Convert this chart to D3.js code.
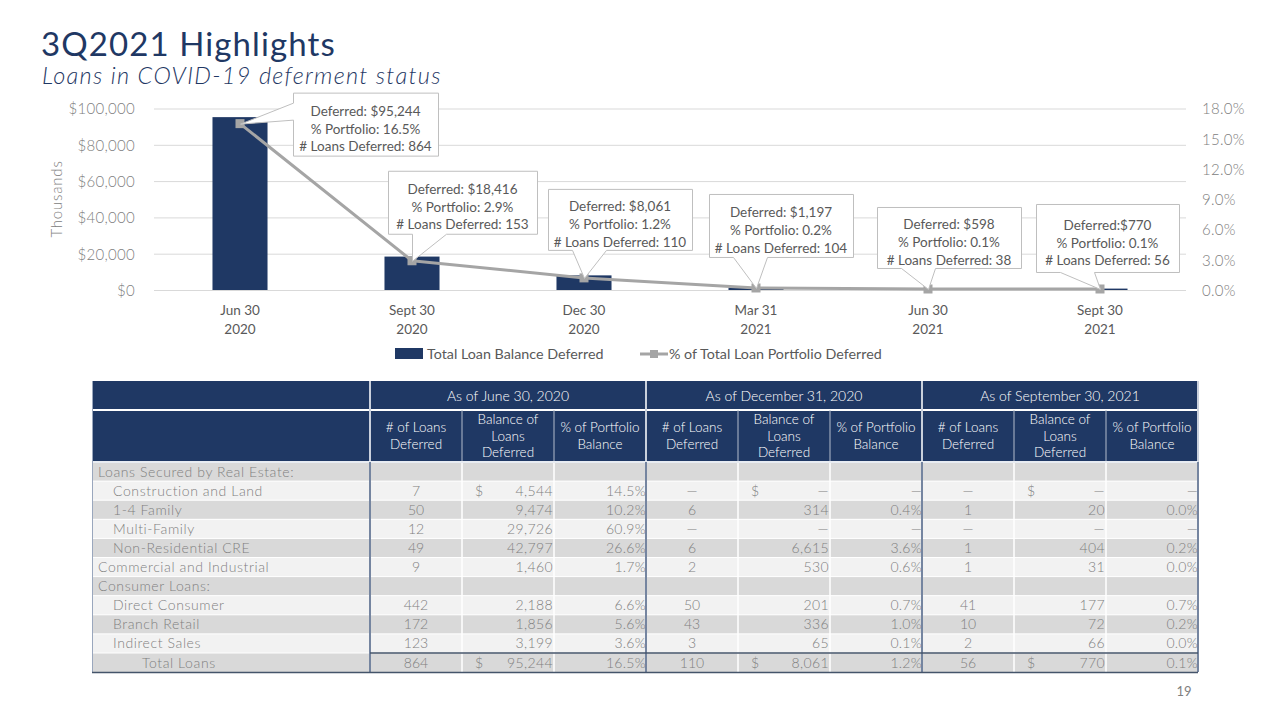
<!DOCTYPE html>
<html><head><meta charset="utf-8">
<script src="https://cdn.jsdelivr.net/npm/d3@7"></script>
<style>body{margin:0;background:#fff} svg{display:block}</style>
</head><body>
<svg id="c" width="1280" height="720"></svg>
<script>
// ---------- chart data ----------
const categories = [["Jun 30","2020"],["Sept 30","2020"],["Dec 30","2020"],["Mar 31","2021"],["Jun 30","2021"],["Sept 30","2021"]];
const balanceDeferred = [95244, 18416, 8061, 1197, 598, 770];
const pctPortfolio = [16.5, 2.9, 1.2, 0.2, 0.1, 0.1];
const loansDeferred = [864, 153, 110, 104, 38, 56];
const deferredPrefix = ["Deferred: ", "Deferred: ", "Deferred: ", "Deferred: ", "Deferred: ", "Deferred:"];
const leftTicks = [0, 20000, 40000, 60000, 80000, 100000];
const rightTicks = [0, 3, 6, 9, 12, 15, 18];
const seriesNames = ["Total Loan Balance Deferred", "% of Total Loan Portfolio Deferred"];

// ---------- table data ----------
const groupHeaders = ["As of June 30, 2020", "As of December 31, 2020", "As of September 30, 2021"];
const subHeaders = [["# of Loans","Deferred"], ["Balance of","Loans","Deferred"], ["% of Portfolio","Balance"]];
const rowLabels = ["Loans Secured by Real Estate:", "Construction and Land", "1-4 Family", "Multi-Family", "Non-Residential CRE", "Commercial and Industrial", "Consumer Loans:", "Direct Consumer", "Branch Retail", "Indirect Sales", "Total Loans"];
const rowLevel = [0, 1, 1, 1, 1, 0, 0, 1, 1, 1, 2];
const sectionRows = [0, 6];
const dollarRows = [1, 10];
const jun2020Count = [null, 7, 50, 12, 49, 9, null, 442, 172, 123, 864];
const jun2020Bal   = [null, 4544, 9474, 29726, 42797, 1460, null, 2188, 1856, 3199, 95244];
const jun2020Pct   = [null, 14.5, 10.2, 60.9, 26.6, 1.7, null, 6.6, 5.6, 3.6, 16.5];
const dec2020Count = [null, null, 6, null, 6, 2, null, 50, 43, 3, 110];
const dec2020Bal   = [null, null, 314, null, 6615, 530, null, 201, 336, 65, 8061];
const dec2020Pct   = [null, null, 0.4, null, 3.6, 0.6, null, 0.7, 1.0, 0.1, 1.2];
const sep2021Count = [null, null, 1, null, 1, 1, null, 41, 10, 2, 56];
const sep2021Bal   = [null, null, 20, null, 404, 31, null, 177, 72, 66, 770];
const sep2021Pct   = [null, null, 0.0, null, 0.2, 0.0, null, 0.7, 0.2, 0.0, 0.1];

// ---------- styles / layout ----------
const NAVY = "#1f3864", GREY_LINE = "#a5a5a5", AX = "#808080", TXT = "#595959";
const F_GEO = "Lato, 'Open Sans', sans-serif";
const F_CAL = "Lato, 'Open Sans', sans-serif";
const GEO_W = 300;
// callout box offsets relative to the data point (annotation layout)
const calloutLayout = [
  {dx: 53,  dy: -31, w: 145, h: 63, ptr: "left"},
  {dx: -24, dy: -90, w: 149, h: 63, ptr: "bottom"},
  {dx: -36, dy: -89, w: 144, h: 61, ptr: "bottom"},
  {dx: -47, dy: -94, w: 144, h: 63, ptr: "bottom"},
  {dx: -51, dy: -82, w: 144, h: 61, ptr: "bottom"},
  {dx: -64, dy: -85, w: 143, h: 68, ptr: "bottom"}
];

const svg = d3.select("#c");
const fmt = d3.format(",");

// Title
svg.append("text").attr("x", 41).attr("y", 56).text("3Q2021 Highlights")
  .style("font-family", F_GEO).style("font-size", "33px").style("font-weight", 400)
  .style("letter-spacing", "1.1px").style("fill", NAVY);
svg.append("text").attr("x", 42).attr("y", 84).text("Loans in COVID-19 deferment status")
  .style("font-family", F_GEO).style("font-size", "23.5px").style("font-style", "italic").style("font-weight", GEO_W)
  .style("letter-spacing", "1.3px").style("fill", NAVY);

// Scales
const plotL = 154, plotR = 1186, plotT = 108.5, plotB = 290;
const x = d3.scaleBand().domain(d3.range(categories.length)).range([plotL, plotR]).paddingInner(0.68).paddingOuter(0.34);
const yL = d3.scaleLinear().domain([0, 100000]).range([plotB, plotT]);
const yR = d3.scaleLinear().domain([0, 18]).range([plotB, plotT]);
const cx = i => x(i) + x.bandwidth() / 2;

// Gridlines
svg.append("g").selectAll("line").data(leftTicks).join("line")
  .attr("x1", plotL).attr("x2", plotR).attr("y1", d => yL(d) + 0.5).attr("y2", d => yL(d) + 0.5)
  .attr("stroke", "#d9d9d9").attr("stroke-width", 1);

// Left axis
const gL = svg.append("g").attr("transform", `translate(${plotL - 16},0)`)
  .call(d3.axisLeft(yL).tickValues(leftTicks).tickSize(0).tickFormat(d => "$" + fmt(d)));
gL.select(".domain").remove();
gL.selectAll("text").style("font-family", F_GEO).style("font-size", "15px").style("font-weight", GEO_W)
  .style("letter-spacing", "0.3px").style("fill", AX).attr("dy", "0.36em");

// Right axis
const gR = svg.append("g").attr("transform", `translate(${plotR + 13},0)`)
  .call(d3.axisRight(yR).tickValues(rightTicks).tickSize(0).tickFormat(d => d.toFixed(1) + "%"));
gR.select(".domain").remove();
gR.selectAll("text").style("font-family", F_GEO).style("font-size", "15px").style("font-weight", GEO_W)
  .style("letter-spacing", "0.3px").style("fill", AX).attr("dy", "0.36em");

// Thousands
svg.append("text").attr("transform", `translate(62,199) rotate(-90)`).attr("text-anchor", "middle")
  .text("Thousands").style("font-family", F_GEO).style("font-size", "15px").style("font-weight", GEO_W)
  .style("letter-spacing", "0.8px").style("fill", AX);

// Bars
svg.append("g").selectAll("rect").data(balanceDeferred).join("rect")
  .attr("x", (d, i) => x(i)).attr("width", x.bandwidth())
  .attr("y", d => yL(d)).attr("height", d => plotB - yL(d)).attr("fill", NAVY);

// X labels
const xl = svg.append("g").selectAll("text").data(categories).join("text")
  .attr("text-anchor", "middle").style("font-family", F_CAL).style("font-size", "13.5px").style("fill", TXT);
xl.each(function(d, i) {
  const t = d3.select(this);
  d.forEach((s, k) => t.append("tspan").attr("x", cx(i)).attr("y", 315 + k * 19).text(s));
});

// Line
const line = d3.line().x((d, i) => cx(i)).y(d => yR(d));
svg.append("path").datum(pctPortfolio).attr("d", line).attr("fill", "none")
  .attr("stroke", GREY_LINE).attr("stroke-width", 3).attr("stroke-linejoin", "round");
svg.append("g").selectAll("rect").data(pctPortfolio).join("rect")
  .attr("x", (d, i) => cx(i) - 4.5).attr("y", d => yR(d) - 4.5).attr("width", 9).attr("height", 9)
  .attr("fill", GREY_LINE);

// Callouts
pctPortfolio.forEach((p, i) => {
  const px = cx(i), py = yR(p), L = calloutLayout[i];
  const bx = px + L.dx, by = py + L.dy, w = L.w, h = L.h;
  let dpath;
  if (L.ptr === "left") {
    dpath = `M${bx},${by} H${bx + w} V${by + h} H${bx} V${by + 27} L${px},${py} L${bx},${by + 10} Z`;
  } else {
    dpath = `M${bx},${by} H${bx + w} V${by + h} H${bx + 58} L${px},${py} L${bx + 24},${by + h} H${bx} Z`;
  }
  svg.append("path").attr("d", dpath).attr("fill", "#fff").attr("stroke", "#bfbfbf").attr("stroke-width", 1)
    .attr("transform", "translate(0.5,0.5)");
  const lines = [
    deferredPrefix[i] + "$" + fmt(balanceDeferred[i]),
    "% Portfolio: " + p.toFixed(1) + "%",
    "# Loans Deferred: " + loansDeferred[i]
  ];
  const ty = by + h / 2 - 12.5;
  lines.forEach((s, k) => svg.append("text").attr("x", bx + w / 2).attr("y", ty + k * 17.6 + 4.5)
    .attr("text-anchor", "middle").text(s)
    .style("font-family", F_CAL).style("font-size", "13.5px").style("fill", TXT));
});

// Legend
const lg = svg.append("g");
lg.append("rect").attr("x", 395).attr("y", 348).attr("width", 28).attr("height", 11).attr("fill", NAVY);
lg.append("text").attr("x", 427).attr("y", 359).text(seriesNames[0])
  .style("font-family", F_CAL).style("font-size", "14.3px").style("fill", TXT);
lg.append("line").attr("x1", 640).attr("x2", 668).attr("y1", 354).attr("y2", 354).attr("stroke", GREY_LINE).attr("stroke-width", 3);
lg.append("rect").attr("x", 650).attr("y", 350).attr("width", 8).attr("height", 8).attr("fill", GREY_LINE);
lg.append("text").attr("x", 669).attr("y", 359).text(seriesNames[1])
  .style("font-family", F_CAL).style("font-size", "14.3px").style("fill", TXT);

// ---------- Table ----------
const tX = 92, tR = 1198, labelW = 278, colW = (tR - tX - labelW) / 9;
const h1T = 381, h1H = 29, h2H = 52, rowH = 19.1;
const bodyT = h1T + h1H + h2H;
const colX = j => tX + labelW + j * colW;
const T = svg.append("g");
const TF = F_GEO;
const TFS = "14px";

// header background
T.append("rect").attr("x", tX).attr("y", h1T).attr("width", tR - tX).attr("height", h1H + h2H).attr("fill", NAVY);
// header text
groupHeaders.forEach((g, k) => {
  T.append("text").attr("x", colX(k * 3) + colW * 1.5).attr("y", h1T + 19.5).attr("text-anchor", "middle")
    .text(g).style("font-family", TF).style("font-size", "14px").style("font-weight", GEO_W).style("fill", "#fff");
  subHeaders.forEach((sh, m) => {
    const cxh = colX(k * 3 + m) + colW / 2;
    const startY = h1T + h1H + 26 - (sh.length - 1) * 8.2 + 4.5;
    sh.forEach((s, q) => T.append("text").attr("x", cxh).attr("y", startY + q * 16.4).attr("text-anchor", "middle")
      .text(s).style("font-family", TF).style("font-size", "13.5px").style("font-weight", GEO_W).style("fill", "#fff"));
  });
});
// header separators
T.append("line").attr("x1", tX).attr("x2", tR).attr("y1", h1T + h1H).attr("y2", h1T + h1H).attr("stroke", "#fff").attr("stroke-width", 2);
for (let j = 0; j <= 9; j++) {
  const major = j % 3 === 0;
  T.append("line").attr("x1", colX(j)).attr("x2", colX(j))
    .attr("y1", major ? h1T : h1T + h1H).attr("y2", bodyT)
    .attr("stroke", major ? "#c9d0dc" : "#b4bccb").attr("stroke-width", major ? 2 : 1);
}

// body rows
const colsData = [
  [jun2020Count, jun2020Bal, jun2020Pct],
  [dec2020Count, dec2020Bal, dec2020Pct],
  [sep2021Count, sep2021Bal, sep2021Pct]
];
const st = s => s.style("font-family", TF).style("font-size", TFS).style("font-weight", GEO_W).style("fill", "#7f7f7f");
rowLabels.forEach((lab, i) => {
  const ry = bodyT + i * rowH;
  T.append("rect").attr("x", tX).attr("y", ry).attr("width", tR - tX).attr("height", rowH)
    .attr("fill", i % 2 === 0 ? "#d9d9d9" : "#f2f2f2");
  const base = ry + 14.5;
  const tx = tX + 6 + [0, 15, 44][rowLevel[i]];
  st(T.append("text").attr("x", tx).attr("y", base).text(lab)).style("letter-spacing", "0.6px");
  if (sectionRows.includes(i)) return;
  colsData.forEach((grp, k) => {
    const [cnt, bal, pct] = grp;
    const c0 = colX(k * 3), c1 = colX(k * 3 + 1), c2 = colX(k * 3 + 2), c3 = colX(k * 3 + 3);
    st(T.append("text").attr("x", (c0 + c1) / 2).attr("y", base).attr("text-anchor", "middle")
      .text(cnt[i] == null ? "—" : fmt(cnt[i])));
    if (dollarRows.includes(i)) st(T.append("text").attr("x", c1 + 13).attr("y", base).text("$"));
    st(T.append("text").attr("x", c2 - 1).attr("y", base).attr("text-anchor", "end")
      .text(bal[i] == null ? "—" : fmt(bal[i]))).style("letter-spacing", "0.4px");
    st(T.append("text").attr("x", c3).attr("y", base).attr("text-anchor", "end")
      .text(pct[i] == null ? "—" : pct[i].toFixed(1) + "%")).style("letter-spacing", "0.3px");
  });
});
const bodyB = bodyT + rowLabels.length * rowH;
// white grid in body
for (let i = 1; i < rowLabels.length; i++) {
  T.append("line").attr("x1", tX).attr("x2", tR).attr("y1", bodyT + i * rowH).attr("y2", bodyT + i * rowH)
    .attr("stroke", "#fff").attr("stroke-width", 1);
}
for (let j = 0; j < 9; j++) {
  if (j % 3 === 0) continue;
  T.append("line").attr("x1", colX(j)).attr("x2", colX(j)).attr("y1", bodyT).attr("y2", bodyB)
    .attr("stroke", "#fff").attr("stroke-width", 1.5);
}
T.append("line").attr("x1", tX).attr("x2", tR).attr("y1", bodyT).attr("y2", bodyT).attr("stroke", "#e8ecf2").attr("stroke-width", 2);
// group borders in body
[0, 3, 6, 9].forEach(j => T.append("line").attr("x1", colX(j)).attr("x2", colX(j)).attr("y1", bodyT).attr("y2", bodyB)
  .attr("stroke", "#7585a0").attr("stroke-width", 2));
T.append("line").attr("x1", tX + 0.5).attr("x2", tX + 0.5).attr("y1", h1T).attr("y2", bodyB).attr("stroke", "#9aa7bd").attr("stroke-width", 1);
// total row top line and bottom border
T.append("line").attr("x1", colX(0)).attr("x2", tR).attr("y1", bodyB - rowH).attr("y2", bodyB - rowH).attr("stroke", "#44546a").attr("stroke-width", 1.5);
T.append("line").attr("x1", tX).attr("x2", tR).attr("y1", bodyB + 0.5).attr("y2", bodyB + 0.5).attr("stroke", "#44546a").attr("stroke-width", 1.5);

// page number
svg.append("text").attr("x", 1184).attr("y", 696).attr("text-anchor", "middle").text("19")
  .style("font-family", F_CAL).style("font-size", "13px").style("fill", "#7f7f7f");
</script>
</body></html>
